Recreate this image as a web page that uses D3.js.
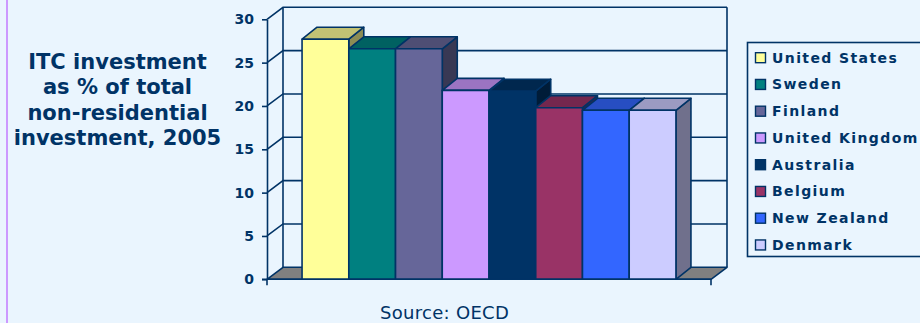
<!DOCTYPE html>
<html>
<head>
<meta charset="utf-8">
<title>ITC investment</title>
<script src="https://d3js.org/d3.v7.min.js"></script>
<style>
  body { margin: 0; background: #eaf5fe; }
  svg text { font-family: "DejaVu Sans", Verdana, sans-serif; fill: #003366; }
</style>
</head>
<body>
<svg id="chart" width="920" height="323"></svg>
<script>
// data
const countries = ["United States", "Sweden", "Finland", "United Kingdom",
                   "Australia", "Belgium", "New Zealand", "Denmark"];
const values = [27.7, 26.6, 26.6, 21.8, 21.7, 19.8, 19.5, 19.5];
const colors = ["#ffff99", "#008080", "#666699", "#cc99ff",
                "#003366", "#993366", "#3366ff", "#ccccff"];
const yTicks = [0, 5, 10, 15, 20, 25, 30];
const titleLines = ["ITC investment", "as % of total", "non-residential", "investment, 2005"];

const svg = d3.select("#chart");
const ink = "#003366";
const dx = 16, dy = -12;     // depth of the walls
const bdx = 15, bdy = -12;   // depth of a bar

const x = d3.scaleBand().domain(countries).range([267, 711])
    .paddingInner(0).paddingOuter(0.75);
const y = d3.scaleLinear().domain([0, 30]).range([279.3, 19.3]);

// purple strip on the left
svg.append("rect").attr("x", 0).attr("y", 0).attr("width", 920).attr("height", 323).attr("fill", "#eaf5fe");
svg.append("line").attr("x1", 7).attr("x2", 7).attr("y1", 0).attr("y2", 323)
   .attr("stroke", "#cc99ff").attr("stroke-width", 2);

// title
svg.append("text").attr("text-anchor", "middle")
   .style("font-weight", "bold").style("font-size", "21px")
   .selectAll("tspan").data(titleLines).join("tspan")
   .attr("x", 117.5).attr("y", (d, i) => 68.5 + i * 25.6).text(d => d);

const x0 = 267, x1 = 711;

// back wall and grid
const g = svg.append("g").attr("fill", "none").attr("stroke", ink).attr("stroke-width", 1.6);
g.selectAll(".grid").data(yTicks.slice(1)).join("path")
  .attr("d", d => `M${x0},${y(d)}L${x0 + dx},${y(d) + dy}L${x1 + dx},${y(d) + dy}`);
g.append("path").attr("d", `M${x0 + dx},${y(30) + dy}L${x0 + dx},${y(0) + dy}`);
g.append("path").attr("d", `M${x1 + dx},${y(30) + dy}L${x1 + dx},${y(0) + dy}`);

// floor
svg.append("path")
  .attr("d", `M${x0},${y(0)}L${x0 + dx},${y(0) + dy}L${x1 + dx},${y(0) + dy}L${x1},${y(0)}Z`)
  .attr("fill", "#808080").attr("stroke", ink).attr("stroke-width", 1.6)
  .attr("stroke-linejoin", "round");

// bars, left to right so each one hides the side of the one before
const bars = svg.append("g").attr("stroke", ink).attr("stroke-width", 1.6).attr("stroke-linejoin", "round");
countries.forEach((c, i) => {
  const bx = x(c), bw = x.bandwidth(), top = y(values[i]), base = y(0);
  const col = d3.color(colors[i]);
  const b = bars.append("g");
  b.append("path")
    .attr("d", `M${bx + bw},${base}L${bx + bw + bdx},${base + bdy}L${bx + bw + bdx},${top + bdy}L${bx + bw},${top}Z`)
    .attr("fill", d3.rgb(col.r * 0.55, col.g * 0.55, col.b * 0.55));
  b.append("path")
    .attr("d", `M${bx},${top}L${bx + bdx},${top + bdy}L${bx + bw + bdx},${top + bdy}L${bx + bw},${top}Z`)
    .attr("fill", d3.rgb(col.r * 0.76, col.g * 0.76, col.b * 0.76));
  b.append("rect").attr("x", bx).attr("y", top).attr("width", bw).attr("height", base - top)
    .attr("fill", colors[i]);
});

// y axis
const yAxis = d3.axisLeft(y).tickValues(yTicks).tickSize(5).tickSizeOuter(0).tickPadding(8);
const ya = svg.append("g").attr("transform", `translate(${x0},0)`).call(yAxis);
ya.selectAll("line, path").attr("stroke", ink).attr("stroke-width", 1.6);
ya.selectAll("text").attr("fill", ink).style("font-size", "14px").style("font-weight", "bold")
  .style("font-family", "'DejaVu Sans', Verdana, sans-serif");

// x axis line with end ticks
const xa = svg.append("g").attr("stroke", ink).attr("stroke-width", 1.6);
xa.append("line").attr("x1", x0 - 5).attr("x2", x1).attr("y1", y(0)).attr("y2", y(0));
xa.selectAll(".xt").data([x0, x1]).join("line")
  .attr("x1", d => d).attr("x2", d => d).attr("y1", y(0)).attr("y2", y(0) + 6);

// legend
const lg = svg.append("g");
lg.append("rect").attr("x", 747.5).attr("y", 42.5).attr("width", 190).attr("height", 214)
  .attr("fill", "none").attr("stroke", ink).attr("stroke-width", 1.6);
const items = lg.selectAll(".item").data(countries).join("g")
  .attr("transform", (d, i) => `translate(755,${57.7 + i * 26.75})`);
items.append("rect").attr("x", 0.5).attr("y", -5).attr("width", 10).attr("height", 10)
  .attr("fill", (d, i) => colors[i]).attr("stroke", ink).attr("stroke-width", 1.4);
items.append("text").attr("x", 17).attr("dy", "0.36em")
  .style("font-size", "14px").style("font-weight", "bold").style("letter-spacing", "1.4px")
  .text(d => d);

// source note
svg.append("text").attr("x", 444.5).attr("y", 319).attr("text-anchor", "middle")
  .style("font-size", "18px").style("letter-spacing", "0.3px")
  .attr("fill", "#1a4070").text("Source: OECD");
</script>
</body>
</html>
